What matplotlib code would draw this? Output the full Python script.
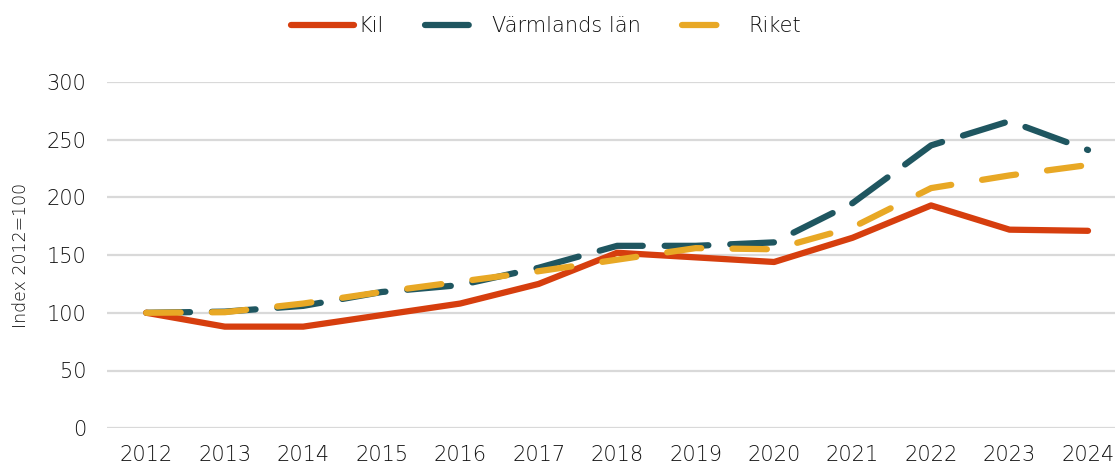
import matplotlib
matplotlib.use("Agg")
import matplotlib.pyplot as plt

# ── data ──────────────────────────────────────────────────────────────────────
years = ["2012", "2013", "2014", "2015", "2016", "2017", "2018",
         "2019", "2020", "2021", "2022", "2023", "2024"]
kil = [100, 88, 88, 98, 108, 125, 152, 148, 144, 165, 193, 172, 171]
varmland = [100, 101, 106, 118, 124, 139, 158, 158, 161, 195, 245, 266, 241]
riket = [100, 100.5, 108, 118, 127, 136, 146, 156, 155, 174, 208, 219, 228]

# ── style ─────────────────────────────────────────────────────────────────────
plt.rcParams["font.family"] = ["DejaVu Sans"]
plt.rcParams["font.weight"] = "light"
c_kil = "#D63E0E"
c_varm = "#1F5660"
c_riket = "#E8A825"
text_c = "#111111"

fig = plt.figure(figsize=(11.15, 4.68), dpi=100)
ax = fig.add_axes([0.096, 0.085, 0.915, 0.74])

x = range(len(years))
ax.plot(x, kil, color=c_kil, lw=4.5, solid_capstyle="round",
        solid_joinstyle="round", label="Kil", zorder=3)
ax.plot(x, varmland, color=c_varm, lw=4.5, dashes=(7, 3.5),
        dash_capstyle="round", dash_joinstyle="round",
        label="Värmlands län", zorder=2)
ax.plot(x, riket, color=c_riket, lw=4.5, dashes=(5.5, 5),
        dash_capstyle="round", dash_joinstyle="round",
        label="Riket", zorder=4)

ax.set_xlim(-0.5, len(years) - 0.5)
ax.set_ylim(0, 300)
ax.set_yticks(range(0, 301, 50))
ax.set_xticks(list(x))
ax.set_xticklabels(years)
ax.grid(axis="y", color="#D9D9D9", lw=1.6)
ax.set_axisbelow(True)
for s in ax.spines.values():
    s.set_visible(False)
ax.tick_params(length=0, labelsize=15, colors=text_c)
ax.tick_params(axis="x", pad=12)
ax.tick_params(axis="y", pad=15)
ax.set_ylabel("Index 2012=100", fontsize=12.5, color=text_c,
              fontweight="light", labelpad=12)

leg = fig.legend(loc="upper center", bbox_to_anchor=(0.49, 1.005), ncol=3,
                 frameon=False, fontsize=15, handlelength=3.0,
                 columnspacing=2.0, handletextpad=0.2)
for t in leg.get_texts():
    t.set_color(text_c)

fig.savefig("out.png", dpi=100)
